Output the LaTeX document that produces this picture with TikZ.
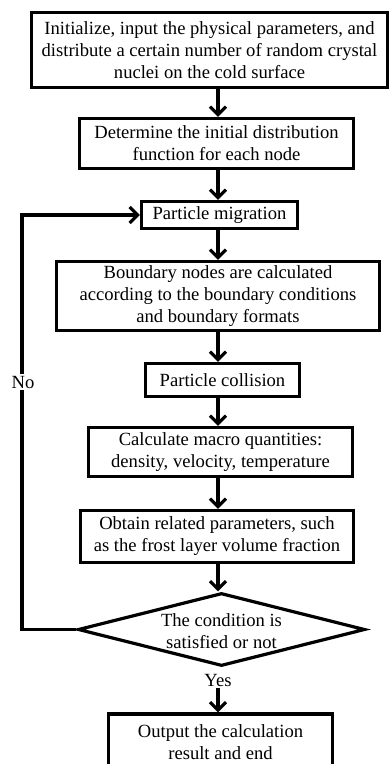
\documentclass[tikz,border=0pt]{standalone}
\usepackage{fontspec}
\setmainfont{Liberation Serif}
\usetikzlibrary{shapes.geometric,arrows.meta,calc}
\begin{document}
\begin{tikzpicture}[x=1pt,y=-1pt,
  box/.style={draw, line width=3.2pt, align=center, inner sep=0pt, font=\fontsize{18.6}{22}\selectfont},
  arr/.style={line width=3.2pt, -{Straight Barb[length=8pt,width=16pt]}},
  lbl/.style={fill=white, inner sep=1.5pt, font=\fontsize{18.6}{22}\selectfont}]
\useasboundingbox (0,0) rectangle (391,764);
\clip (0,0) rectangle (391,764);
\node[box, minimum width=356, minimum height=75] (b1) at (209.5,50) {Initialize, input the physical parameters, and\\distribute a certain number of random crystal\\nuclei on the cold surface};
\node[box, minimum width=274, minimum height=50] (b2) at (216.5,143.5) {Determine the initial distribution\\function for each node};
\node[box, minimum width=156, minimum height=27] (b3) at (219.5,215) {Particle migration};
\node[box, minimum width=323, minimum height=69] (b4) at (218,296) {Boundary nodes are calculated\\according to the boundary conditions\\and boundary formats};
\node[box, minimum width=154, minimum height=33] (b5) at (222.5,380) {Particle collision};
\node[box, minimum width=264, minimum height=49] (b6) at (220.5,452) {Calculate macro quantities:\\density, velocity, temperature};
\node[box, minimum width=273, minimum height=52] (b7) at (217,536.5) {Obtain related parameters, such\\as the frost layer volume fraction};
\node[draw, diamond, line width=3.2pt, inner sep=0pt, minimum width=287, minimum height=73] (d) at (221.5,629.5) {};
\node[align=center, font=\fontsize{18.6}{22}\selectfont] (dt) at (221.5,631) {The condition is\\satisfied or not};
\node[box, minimum width=224, minimum height=56] (b8) at (220.5,742) {Output the calculation\\result and end};
\coordinate (ax) at (218,0);
\coordinate (lc) at (22,0);
\draw[arr] (b1.south -| ax) -- (b2.north -| ax);
\draw[arr] (b2.south -| ax) -- (b3.north -| ax);
\draw[arr] (b3.south -| ax) -- (b4.north -| ax);
\draw[arr] (b4.south -| ax) -- (b5.north -| ax);
\draw[arr] (b5.south -| ax) -- (b6.north -| ax);
\draw[arr] (b6.south -| ax) -- (b7.north -| ax);
\draw[arr] (b7.south -| ax) -- (d.north -| ax);
\node[lbl] (yes) at (218,680) {Yes};
\draw[arr] (yes.south) -- (b8.north -| ax);
\draw[arr] (d.west) -- (d.west -| lc) -- (b3.west -| lc) -- (b3.west);
\node[lbl] (no) at (23,382) {No};
\end{tikzpicture}
\end{document}
